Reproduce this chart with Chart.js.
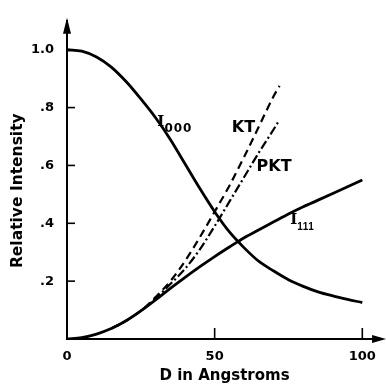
<!DOCTYPE html>
<html>
<head>
<meta charset="utf-8">
<script src="https://cdn.jsdelivr.net/npm/chart.js@4"></script>
<style>
  html, body { margin: 0; padding: 0; background: #fff; }
</style>
</head>
<body>
<canvas id="myChart" width="386" height="385"></canvas>
<script>
// D in Angstroms
const dAngstroms = [0, 5, 10, 15, 20, 25, 30, 35, 40, 45, 50, 55, 60, 65, 70, 75, 80, 85, 90, 95, 100];
const i000 = [1.0, 0.995, 0.975, 0.94, 0.89, 0.83, 0.765, 0.69, 0.605, 0.52, 0.44, 0.37, 0.315, 0.268, 0.235, 0.205, 0.182, 0.163, 0.149, 0.137, 0.126];
const i111 = [0, 0.005, 0.017, 0.036, 0.063, 0.097, 0.135, 0.175, 0.213, 0.25, 0.285, 0.318, 0.35, 0.378, 0.405, 0.432, 0.457, 0.48, 0.503, 0.526, 0.55];

// KT / PKT only go to ~72
const ktD = [15, 20, 25, 30, 35, 40, 45, 50, 55, 60, 65, 70, 72];
const ktValues = [0.036, 0.063, 0.097, 0.145, 0.2, 0.27, 0.352, 0.44, 0.53, 0.63, 0.735, 0.84, 0.875];
const pktD = [15, 20, 25, 30, 35, 40, 45, 50, 55, 60, 65, 70, 71.5];
const pktValues = [0.036, 0.063, 0.097, 0.14, 0.19, 0.243, 0.31, 0.39, 0.475, 0.56, 0.645, 0.725, 0.75];

const xTicks = [0, 50, 100];
const yTicks = [0.2, 0.4, 0.6, 0.8, 1.0];

const toPoints = (xs, ys) => xs.map((x, i) => ({ x: x, y: ys[i] }));

// curve labels, placed in data units
const curveLabels = [
  { main: 'I', sub: '000', x: 30.6, y: 0.736 },
  { main: 'KT', x: 55.8, y: 0.714 },
  { main: 'PKT', x: 64.2, y: 0.582 },
  { main: 'I', sub: '111', x: 75.6, y: 0.396 }
];

const extras = {
  id: 'extras',
  afterDraw(chart) {
    const ctx = chart.ctx;
    const xs = chart.scales.x, ys = chart.scales.y;
    const x0 = xs.getPixelForValue(0), y0 = ys.getPixelForValue(0);
    const area = chart.chartArea;
    ctx.save();
    ctx.strokeStyle = '#000';
    ctx.fillStyle = '#000';
    ctx.lineWidth = 1.6;
    // inward tick marks
    xTicks.forEach(v => {
      if (v === 0) return;
      const px = xs.getPixelForValue(v);
      ctx.beginPath(); ctx.moveTo(px, y0); ctx.lineTo(px, y0 - 11); ctx.stroke();
    });
    yTicks.forEach(v => {
      const py = ys.getPixelForValue(v);
      ctx.beginPath(); ctx.moveTo(x0, py); ctx.lineTo(x0 + 8, py); ctx.stroke();
    });
    // arrow heads
    ctx.beginPath();
    ctx.moveTo(x0, area.top - 3);
    ctx.lineTo(x0 - 4, area.top + 13);
    ctx.lineTo(x0 + 4, area.top + 13);
    ctx.closePath(); ctx.fill();
    ctx.beginPath();
    ctx.moveTo(area.right + 4, y0);
    ctx.lineTo(area.right - 10, y0 - 4);
    ctx.lineTo(area.right - 10, y0 + 4);
    ctx.closePath(); ctx.fill();
    // curve labels
    ctx.textBaseline = 'alphabetic';
    ctx.textAlign = 'left';
    curveLabels.forEach(l => {
      const px = xs.getPixelForValue(l.x), py = ys.getPixelForValue(l.y);
      if (l.sub) {
        ctx.font = 'bold 15px "DejaVu Serif"';
        ctx.fillText(l.main, px, py);
        const w = ctx.measureText(l.main).width;
        if (l.sub === '000') {
          ctx.font = 'bold 12px "DejaVu Sans"';
          ctx.letterSpacing = '1px';
        } else {
          ctx.font = 'bold 10px "Liberation Sans"';
          ctx.letterSpacing = '0.5px';
        }
        ctx.fillText(l.sub, px + w, py + 6);
        ctx.letterSpacing = '0px';
      } else {
        ctx.font = 'bold 16px "DejaVu Sans"';
        ctx.fillText(l.main, px, py);
      }
    });
    ctx.restore();
  }
};

Chart.defaults.font.family = '"DejaVu Sans"';
Chart.defaults.font.weight = 'bold';
Chart.defaults.color = '#000';

new Chart(document.getElementById('myChart'), {
  type: 'line',
  data: {
    datasets: [
      {
        label: 'I000',
        data: toPoints(dAngstroms, i000),
        borderColor: '#000',
        borderWidth: 2.8,
        pointRadius: 0,
        cubicInterpolationMode: 'monotone'
      },
      {
        label: 'I111',
        data: toPoints(dAngstroms, i111),
        borderColor: '#000',
        borderWidth: 2.8,
        pointRadius: 0,
        cubicInterpolationMode: 'monotone'
      },
      {
        label: 'KT',
        data: toPoints(ktD, ktValues),
        borderColor: '#000',
        borderWidth: 2.2,
        borderDash: [8, 5],
        pointRadius: 0,
        cubicInterpolationMode: 'monotone'
      },
      {
        label: 'PKT',
        data: toPoints(pktD, pktValues),
        borderColor: '#000',
        borderWidth: 2.2,
        borderDash: [9, 3, 2, 3],
        pointRadius: 0,
        cubicInterpolationMode: 'monotone'
      }
    ]
  },
  options: {
    responsive: false,
    animation: false,
    layout: { padding: { left: 0, right: 2, top: 14, bottom: 0 } },
    plugins: { legend: { display: false }, tooltip: { enabled: false } },
    scales: {
      x: {
        type: 'linear',
        min: 0,
        max: 106.7,
        afterBuildTicks: s => { s.ticks = xTicks.map(v => ({ value: v })); },
        afterFit: s => { s.height = 46; },
        grid: { display: false, drawTicks: false },
        border: { color: '#000', width: 2 },
        ticks: { padding: 10, font: { size: 13, weight: 'bold' } },
        title: { display: true, text: 'D in Angstroms', padding: 0, font: { size: 15, weight: 'bold' } }
      },
      y: {
        min: 0,
        max: 1.1,
        afterBuildTicks: s => { s.ticks = yTicks.map(v => ({ value: v })); },
        afterFit: s => { s.width = 67; },
        grid: { display: false, drawTicks: false },
        border: { color: '#000', width: 2 },
        ticks: {
          padding: 13,
          font: { size: 13, weight: 'bold' },
          callback: v => v.toFixed(1).replace(/^0/, '')
        },
        title: { display: true, text: 'Relative Intensity    ', padding: { top: 9, bottom: 0 }, font: { size: 15.5, weight: 'bold' } }
      }
    }
  },
  plugins: [extras]
});
</script>
</body>
</html>
